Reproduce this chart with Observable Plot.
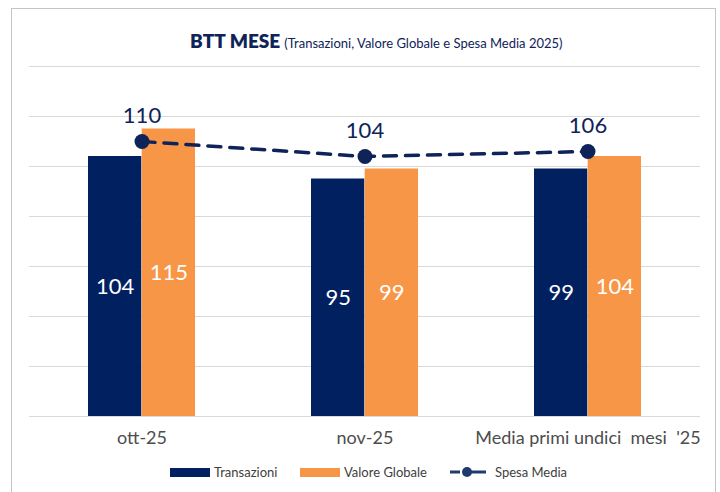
<!DOCTYPE html>
<html><head><meta charset="utf-8">
<script src="https://cdn.jsdelivr.net/npm/d3@7"></script>
<script src="https://cdn.jsdelivr.net/npm/@observablehq/plot@0.6"></script>
<style>
body{margin:0;background:#fff;font-family:Lato,"Open Sans",sans-serif;width:720px;height:492px;overflow:hidden;position:relative;}
#frame{position:absolute;left:11px;top:8px;width:705px;height:500px;border:1px solid #c4c4c4;border-bottom:none;box-sizing:border-box;}
#title{position:absolute;top:29px;left:190px;white-space:nowrap;color:#0f2358;}
#title b{font-size:19px;font-weight:800;}
#title span{font-size:13px;}
#chart{position:absolute;left:0;top:0;}
.leg{position:absolute;top:464px;font-size:13px;color:#404040;display:flex;align-items:center;white-space:nowrap;}
.sw{display:inline-block;width:40px;height:9px;margin-right:4px;}
</style></head>
<body>
<div id="frame"></div>
<div id="chart"></div>
<div id="title"><b>BTT MESE</b> <span>(Transazioni, Valore Globale e Spesa Media 2025)</span></div>
<div class="leg" style="left:170px"><span class="sw" style="background:#002060"></span>Transazioni</div>
<div class="leg" style="left:300px"><span class="sw" style="background:#f79646"></span>Valore Globale</div>
<div class="leg" style="left:449px"><svg width="38" height="12" style="margin-right:8px"><line x1="1" y1="6" x2="11" y2="6" stroke="#1f3a70" stroke-width="3"/><line x1="16" y1="6" x2="37" y2="6" stroke="#1f3a70" stroke-width="3"/><circle cx="18" cy="6" r="5" fill="#1f3a70"/></svg>Spesa Media</div>
<script>
const categories = ["ott-25", "nov-25", "Media primi undici\u00a0 mesi\u00a0 '25"];
const transazioni = [104, 95, 99];
const valoreGlobale = [115, 99, 104];
const spesaMedia = [110, 104, 106];
const yTicks = [0, 20, 40, 60, 80, 100, 120, 140];

const data = categories.map((c, i) => ({cat: c, t: transazioni[i], v: valoreGlobale[i], s: spesaMedia[i]}));

const W = 720, ML = 29, MR = 20;
const pi = 0.52;
const step = (W - ML - MR) / categories.length;
const half = step * (1 - pi) / 2;
const navy = "#002060", orange = "#f79646", lineC = "#0f2358";

const plot = Plot.plot({
  width: W, height: 460,
  marginTop: 66, marginBottom: 44, marginLeft: ML, marginRight: MR,
  style: {fontFamily: "Lato, 'Open Sans', sans-serif", background: "transparent"},
  x: {domain: categories, paddingInner: pi, paddingOuter: pi / 2, label: null},
  y: {domain: [0, 140], axis: null},
  marks: [
    Plot.ruleY(yTicks, {stroke: "#d9d9d9", strokeWidth: 1}),
    Plot.barY(data, {x: "cat", y: "t", fill: navy, insetRight: half}),
    Plot.barY(data, {x: "cat", y: "v", fill: orange, insetLeft: half}),
    Plot.text(data, {x: "cat", y: d => d.t / 2, text: d => String(d.t), dx: -half / 2, fill: "white", fontSize: 22}),
    Plot.text(data, {x: "cat", y: d => d.v / 2, text: d => String(d.v), dx: half / 2, fill: "white", fontSize: 22}),
    Plot.line(data, {x: "cat", y: "s", stroke: lineC, strokeWidth: 3.5, strokeDasharray: "13,9"}),
    Plot.dot(data, {x: "cat", y: "s", r: 7.5, fill: lineC, stroke: "none"}),
    Plot.text(data, {x: "cat", y: "s", text: d => String(d.s), dy: -26, fill: lineC, fontSize: 22}),
    Plot.axisX({tickSize: 0, tickPadding: 15, fontSize: 18, color: "#4d4d4d", label: null})
  ]
});
document.getElementById("chart").appendChild(plot);
</script>
</body></html>
